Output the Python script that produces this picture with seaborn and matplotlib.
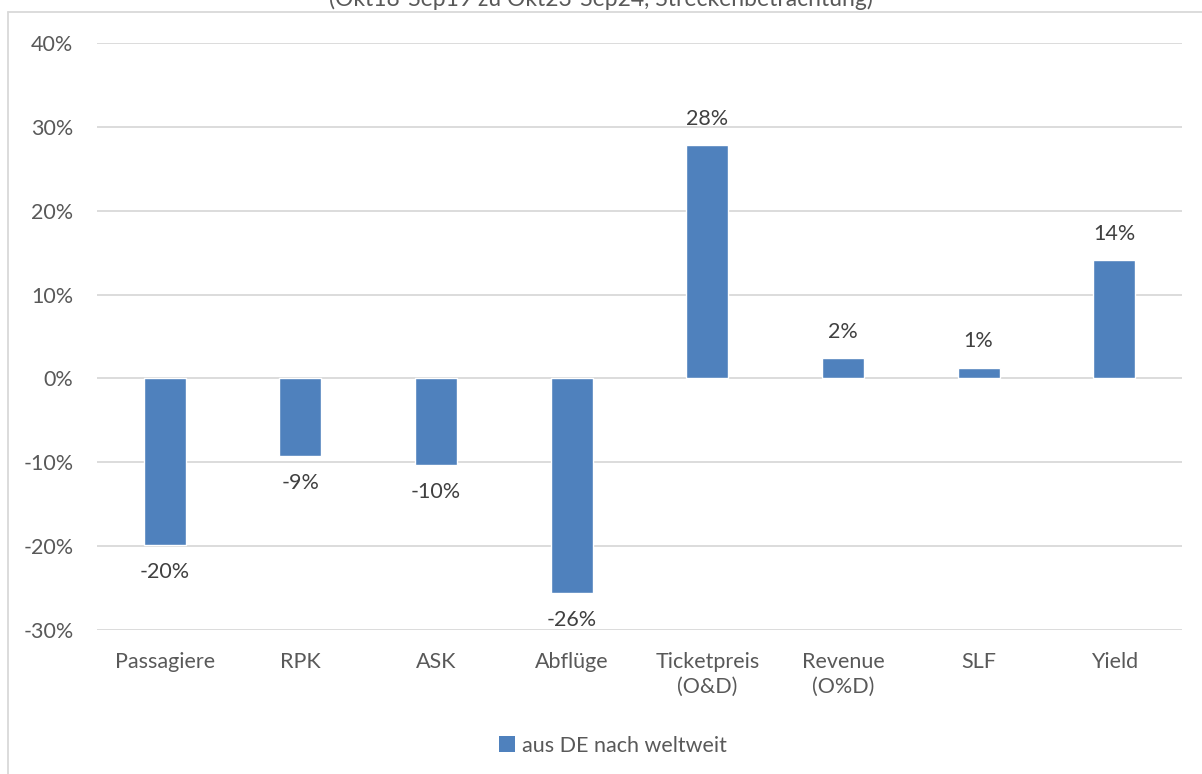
import matplotlib
matplotlib.use("Agg")
import matplotlib.pyplot as plt
from matplotlib.lines import Line2D
from matplotlib.patches import Patch
from matplotlib.ticker import FuncFormatter, MultipleLocator
import seaborn as sns
import pandas as pd

# Veränderung der Kennzahlen, Verkehr aus DE nach weltweit
categories = ["Passagiere", "RPK", "ASK", "Abflüge", "Ticketpreis\n(O&D)",
              "Revenue\n(O%D)", "SLF", "Yield"]
changes = [-0.199, -0.092, -0.103, -0.256, 0.278, 0.024, 0.013, 0.141]
series_name = "aus DE nach weltweit"
title_text = "(Okt18-Sep19 zu Okt23-Sep24, Streckenbetrachtung)"

BAR = "#4F81BD"
GRID = "#D9D9D9"
TICK = "#595959"
LABEL = "#404040"
FS = 15.5

sns.set_theme(style="white")
plt.rcParams["font.family"] = ["Lato", "DejaVu Sans"]

df = pd.DataFrame({"Kategorie": categories, "Wert": changes})

fig = plt.figure(figsize=(12.02, 7.74), dpi=100)
ax = fig.add_axes([0.0807, 0.186, 0.9027, 0.7584])

sns.barplot(data=df, x="Kategorie", y="Wert", color=BAR, width=0.31,
            saturation=1, ax=ax, zorder=3)

ax.set_ylim(-0.30, 0.40)
ax.set_xlim(-0.5, len(categories) - 0.5)
ax.yaxis.set_major_locator(MultipleLocator(0.10))
ax.yaxis.set_major_formatter(FuncFormatter(lambda v, _: f"{v * 100:.0f}%"))
ax.grid(axis="y", color=GRID, linewidth=1.3, zorder=0)
ax.grid(axis="x", visible=False)
for s in ax.spines.values():
    s.set_visible(False)
ax.set_xlabel("")
ax.set_ylabel("")
ax.tick_params(axis="y", length=0, pad=17, labelsize=FS, labelcolor=TICK)
ax.tick_params(axis="x", length=0, pad=16, labelsize=FS, labelcolor=TICK)
for t in ax.get_xticklabels():
    t.set_linespacing(1.3)

# Wertbeschriftungen an den Balkenenden
for i, v in enumerate(changes):
    off = 19 if v >= 0 else -19.5
    ax.annotate(f"{v * 100:.0f}%", xy=(i, v), xytext=(0, off),
                textcoords="offset points", ha="center", va="center",
                fontsize=FS, color=LABEL)

# Legende
ax.legend(handles=[Patch(facecolor=BAR, edgecolor="none", label=series_name)],
          loc="center", bbox_to_anchor=(0.51, 0.0365),
          bbox_transform=fig.transFigure, frameon=False, fontsize=FS,
          labelcolor=TICK, handlelength=0.75, handleheight=0.75,
          handletextpad=0.3)

# Diagrammrahmen und Untertitel
W, H = 1202, 774
fig.add_artist(Line2D([8 / W, 1.0], [1 - 12 / H, 1 - 12 / H],
                      transform=fig.transFigure, color=GRID, linewidth=1.3))
fig.add_artist(Line2D([8 / W, 8 / W], [0.0, 1 - 12 / H],
                      transform=fig.transFigure, color=GRID, linewidth=1.3))
fig.text(0.5, 1 - 6 / H, title_text, ha="center", va="baseline",
         fontsize=16.5, color=TICK)

fig.savefig("out.png", dpi=100)
